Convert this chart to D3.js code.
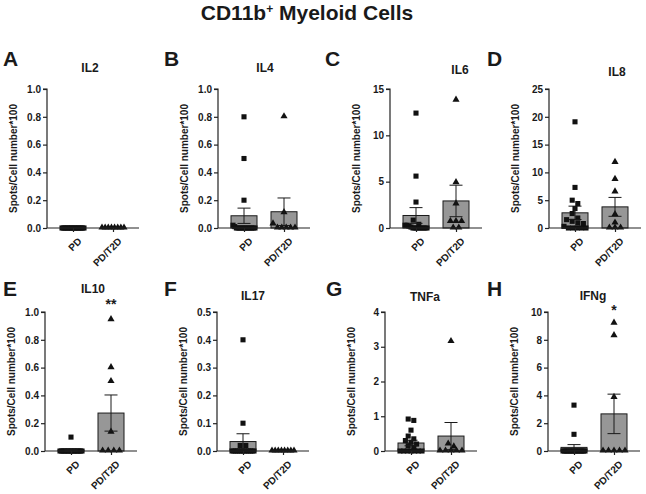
<!DOCTYPE html>
<html><head><meta charset="utf-8">
<script src="https://cdn.jsdelivr.net/npm/d3@7"></script>
<style>
body{margin:0;background:#fff;}
text{font-family:"Liberation Sans",Arial,Helvetica,sans-serif;font-weight:bold;fill:#1a1a1a;}
</style></head><body>
<svg id="chart" width="646" height="494"></svg>
<script>
// ---------- DATA ----------
const chartTitle = "CD11b";
const chartTitleRest = " Myeloid Cells";
const cytokines = ["IL2","IL4","IL6","IL8","IL10","IL17","TNFa","IFNg"];
const panelLetters = ["A","B","C","D","E","F","G","H"];
const groups = ["PD","PD/T2D"];
const yMax  = [1, 1, 15, 25, 1, 0.5, 4, 10];
const yStep = [0.2, 0.2, 5, 5, 0.2, 0.1, 1, 2];
const yDecimals = [1,1,0,0,1,1,0,0];

// individual points (squares: PD, triangles: PD/T2D)
const pdPoints = [
  [0,0,0,0,0,0,0,0,0,0,0,0,0,0,0,0,0],
  [0.8,0.5,0.2,0.02,0.01,0,0,0,0,0,0,0,0,0,0,0,0],
  [12.4,5.6,2.8,0.85,0.4,0.3,0.3,0.2,0.1,0,0,0,0,0,0,0,0],
  [19.1,7.3,5.0,4.4,3.5,2.6,1.8,1.5,1.2,0.9,0.8,0.3,0,0,0,0,0],
  [0.1,0,0,0,0,0,0,0,0,0,0,0,0,0,0,0,0],
  [0.4,0.1,0.02,0.02,0,0,0,0,0,0,0,0,0,0,0,0,0],
  [0.92,0.88,0.6,0.43,0.35,0.3,0.25,0.2,0.15,0.1,0,0,0,0,0,0,0],
  [3.3,1.2,0,0,0,0,0,0,0,0,0,0,0,0,0,0,0]
];
const t2dPoints = [
  [0,0,0,0,0,0,0,0],
  [0.8,0.11,0.03,0,0,0,0,0],
  [13.8,4.9,2.6,0.7,0.7,0.7,0,0],
  [11.8,8.75,6.5,2.4,0.9,0,0,0],
  [0.945,0.6,0.5,0.136,0,0,0,0],
  [0,0,0,0,0,0,0,0],
  [3.15,0.2,0.12,0,0,0,0,0],
  [9.2,8.3,3.85,0,0,0,0,0]
];
// bar heights (mean) and error bars (SEM)
const pdMean  = [0, 0.088, 1.35, 2.73, 0.006, 0.034, 0.23, 0.26];
const pdSem   = [0, 0.055, 0.85, 1.2, 0.006, 0.028, 0.08, 0.2];
const t2dMean = [0, 0.117, 2.92, 3.8, 0.273, 0, 0.43, 2.67];
const t2dSem  = [0, 0.099, 1.7, 1.7, 0.13, 0, 0.39, 1.42];
const stars   = ["", "", "", "", "**", "", "", "*"];
const yLabel = "Spots/Cell number*100";

// ---------- LAYOUT ----------
const axisX   = [47, 218, 390, 549, 45, 217, 385, 548];
const rowTop  = [89, 312];
const rowBot  = [228, 451];
const plotW = 92;
const titleX  = [90, 265, 460, 617, 93, 253, 425, 593];
const titleY  = [72, 72, 74, 76, 293, 300, 301, 300];
const letterX = [3, 164, 325, 487, 3, 164, 326, 487];
const letterY = [66, 66, 66, 66, 296, 296, 296, 296];
const barW = 26;

const svg = d3.select("#chart");

// main title
const tt = svg.append("text").attr("x", 307).attr("y", 20)
  .attr("text-anchor","middle").style("font-size","21px");
tt.append("tspan").text(chartTitle);
tt.append("tspan").text("+").attr("dy",-7).style("font-size","12px");
tt.append("tspan").text(chartTitleRest).attr("dy",7);

cytokines.forEach((name, i) => {
  const row = i < 4 ? 0 : 1;
  const x0 = axisX[i];
  const g = svg.append("g");
  const y = d3.scaleLinear().domain([0, yMax[i]]).range([rowBot[row], rowTop[row]]);
  const x = d3.scalePoint().domain(groups).range([x0, x0 + plotW]).padding(0.65);

  // letter & title
  svg.append("text").attr("x", letterX[i]).attr("y", letterY[i])
    .style("font-size","21px").text(panelLetters[i]);
  svg.append("text").attr("x", titleX[i]).attr("y", titleY[i])
    .attr("text-anchor","middle").style("font-size","12px").text(name);

  // y axis
  const ticks = d3.range(0, yMax[i] + yStep[i]/2, yStep[i]);
  const yAxis = d3.axisLeft(y).tickValues(ticks).tickSize(4).tickPadding(2)
    .tickFormat(d3.format("." + yDecimals[i] + "f"));
  const ya = g.append("g").attr("transform", `translate(${x0},0)`).call(yAxis);
  ya.select(".domain").attr("stroke","#222").attr("stroke-width",1.2).attr("d", `M-4,${y(yMax[i])}H0V${y(0)}`);
  ya.selectAll(".tick line").attr("stroke","#222").attr("stroke-width",1.2);
  ya.selectAll(".tick text").style("font-size","10px").attr("fill","#1a1a1a")
    .style("font-family","'Liberation Sans',Arial,sans-serif").style("font-weight","bold");

  // y label
  svg.append("text")
    .attr("transform", `translate(${x0 - 34},${(rowTop[row] + rowBot[row]) / 2}) rotate(-90)`)
    .attr("text-anchor","middle").attr("dy","0.35em").style("font-size","10px").text(yLabel);

  // bars
  const means = [pdMean[i], t2dMean[i]];
  const sems = [pdSem[i], t2dSem[i]];
  groups.forEach((gr, k) => {
    const top = y(means[k]);
    g.append("rect").attr("x", x(gr) - barW/2).attr("y", top)
      .attr("width", barW).attr("height", Math.max(0, y(0) - top))
      .attr("fill","#979797").attr("stroke","#1a1a1a").attr("stroke-width",1);
  });

  // points (beeswarm-like rows)
  const pts = [pdPoints[i], t2dPoints[i]];
  groups.forEach((gr, k) => {
    const vals = pts[k].slice().sort((a,b) => b - a);
    const rows = [];
    vals.forEach(v => {
      const py = y(v);
      const last = rows[rows.length - 1];
      if (last && Math.abs(last.y0 - py) < 4.5) last.items.push(py);
      else rows.push({y0: py, items: [py]});
    });
    const sym = d3.symbol().type(k === 0 ? d3.symbolSquare : d3.symbolTriangle).size(k === 0 ? 26 : 22);
    rows.forEach(r => {
      const n = r.items.length;
      const sp = n > 1 ? Math.min(5.6, (barW - 4) / (n - 1)) : 0;
      r.items.forEach((py, j) => {
        const px = x(gr) + (j - (n - 1) / 2) * sp;
        g.append("path").attr("d", sym).attr("transform", `translate(${px},${py - (k===1?0.5:0)})`)
          .attr("fill","#111");
      });
    });
  });

  // error bars
  groups.forEach((gr, k) => {
    if (sems[k] <= 0) return;
    const cx = x(gr), hi = y(means[k] + sems[k]), lo = y(Math.max(0, means[k] - sems[k]));
    g.append("path").attr("d", `M${cx},${lo}V${hi}M${cx-6.5},${hi}H${cx+6.5}M${cx-6.5},${lo}H${cx+6.5}`)
      .attr("stroke","#1a1a1a").attr("stroke-width",1).attr("fill","none");
  });

  // x axis
  const xAxis = d3.axisBottom(x).tickSize(4).tickSizeOuter(0).tickFormat(d => d);
  const xa = g.append("g").attr("transform", `translate(0,${y(0)})`).call(xAxis);
  xa.select(".domain").attr("stroke","#222").attr("stroke-width",1.2).attr("d", `M${x0},0H${x0 + plotW}`);
  xa.selectAll(".tick line").attr("stroke","#222").attr("stroke-width",1.2);
  xa.selectAll(".tick text").style("font-size","10px").attr("fill","#1a1a1a")
    .style("font-family","'Liberation Sans',Arial,sans-serif").style("font-weight","bold")
    .attr("text-anchor","end").attr("dx","0").attr("dy","0")
    .attr("transform","translate(4,9) rotate(-45)");

  // significance stars
  if (stars[i]) {
    svg.append("text").attr("x", x(groups[1])).attr("y", stars[i].length > 1 ? 309 : 315)
      .attr("text-anchor","middle").style("font-size","14px").text(stars[i]);
  }
});
</script>
</body></html>
